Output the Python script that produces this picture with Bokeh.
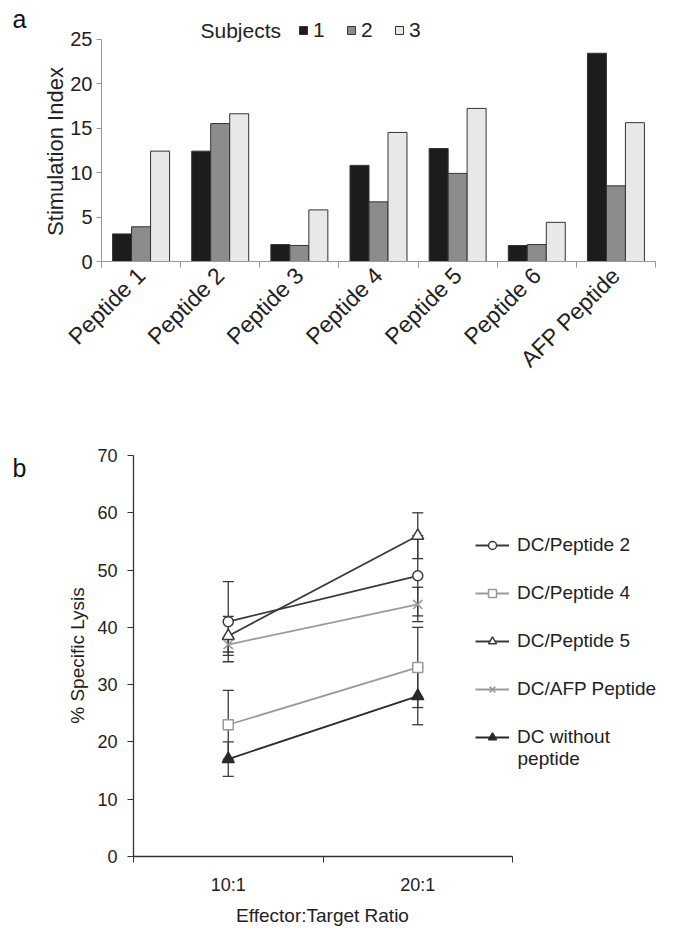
import numpy as np
from bokeh.plotting import figure
from bokeh.layouts import column
from bokeh.models import (ColumnDataSource, FixedTicker, Label, Legend, LegendItem,
                          Whisker, TeeHead, Range1d)
from bokeh.embed import file_html
from bokeh.resources import INLINE

FONT = "Liberation Sans"
TXT = "#222222"

# ---------------- Panel a data ----------------
peptides = ["Peptide 1", "Peptide 2", "Peptide 3", "Peptide 4", "Peptide 5", "Peptide 6", "AFP Peptide"]
subject_labels = ["1", "2", "3"]
subject_1 = [3.1, 12.4, 1.9, 10.8, 12.7, 1.8, 23.4]
subject_2 = [3.9, 15.5, 1.8, 6.7, 9.9, 1.9, 8.5]
subject_3 = [12.4, 16.6, 5.8, 14.5, 17.2, 4.4, 15.6]
y_ticks_a = [0, 5, 10, 15, 20, 25]

# ---------------- Panel b data ----------------
ratios = ["10:1", "20:1"]
series_names = ["DC/Peptide 2", "DC/Peptide 4", "DC/Peptide 5", "DC/AFP Peptide", "DC without\npeptide"]
lysis_p2 = [41.0, 49.0]
err_p2 = [7.0, 7.0]
lysis_p4 = [23.0, 33.0]
err_p4 = [6.0, 7.0]
lysis_p5 = [38.5, 56.0]
err_p5 = [3.4, 4.0]
lysis_afp = [37.0, 44.0]
err_afp = [1.3, 3.0]
lysis_none = [17.0, 28.0]
err_none = [3.0, 5.0]
y_ticks_b = [0, 10, 20, 30, 40, 50, 60, 70]

W = 668


def txt(x, y, text, size, angle=0.0, align="left", color=TXT):
    return Label(x=x, y=y, x_units="screen", y_units="screen", text=text, angle=angle,
                 text_font=FONT, text_font_size=size, text_baseline="middle",
                 text_align=align, text_color=color)


# ================= Panel a =================
H1 = 411
A_LEFT, A_ZERO = 101, 261            # pixel position of the axes' origin
PXA_X = 554 / len(peptides)
PXA_Y = (261 - 38.5) / 25.0
p1 = figure(width=W, height=H1,
            x_range=Range1d(-A_LEFT / PXA_X, (W - A_LEFT) / PXA_X),
            y_range=Range1d(-(H1 - A_ZERO) / PXA_Y, A_ZERO / PXA_Y),
            output_backend="svg", toolbar_location=None, frame_align=False, min_border=0)
p1.outline_line_color = None
p1.xgrid.visible = False
p1.ygrid.visible = False

centers = np.arange(len(peptides)) + 0.5
bw = 0.24
bar_colors = ["#1c1c1c", "#8c8c8c", "#e8e8e8"]
bar_renderers = []
for k, vals in enumerate([subject_1, subject_2, subject_3]):
    src = ColumnDataSource(dict(x=centers + (k - 1) * bw, top=vals))
    r = p1.vbar(x="x", top="top", width=bw, bottom=0, source=src,
                fill_color=bar_colors[k], line_color="#333333", line_width=1)
    bar_renderers.append(r)

xa = p1.xaxis[0]
xa.fixed_location = 0
xa.bounds = (0, len(peptides))
xa.ticker = FixedTicker(ticks=list(centers), minor_ticks=list(range(len(peptides) + 1)))
xa.major_label_overrides = {float(c): name for c, name in zip(centers, peptides)}
xa.major_label_orientation = np.pi / 4
xa.major_tick_out = 0
xa.major_tick_in = 0
xa.minor_tick_out = 6
xa.minor_tick_in = 0
xa.major_label_standoff = 4
xa.major_label_text_font = FONT
xa.major_label_text_font_size = "23px"
xa.major_label_text_color = TXT
xa.axis_line_color = "#999999"
xa.minor_tick_line_color = "#999999"

ya = p1.yaxis[0]
ya.fixed_location = 0
ya.bounds = (0, 25)
ya.ticker = FixedTicker(ticks=y_ticks_a)
ya.major_tick_out = 5
ya.major_tick_in = 0
ya.minor_tick_out = 0
ya.minor_tick_in = 0
ya.major_label_standoff = 4
ya.major_label_text_font = FONT
ya.major_label_text_font_size = "20px"
ya.major_label_text_color = TXT
ya.axis_line_color = "#999999"
ya.major_tick_line_color = "#999999"

p1.add_layout(txt(55, H1 - 151, "Stimulation Index", "22px", angle=np.pi / 2, align="center"))

leg_a = Legend(items=[LegendItem(label=lab, renderers=[r]) for lab, r in zip(subject_labels, bar_renderers)],
               orientation="horizontal", location=(298, H1 - 42), glyph_width=10, glyph_height=10,
               label_standoff=5, spacing=13, padding=0, margin=0, border_line_color=None,
               background_fill_alpha=0, label_text_font=FONT, label_text_font_size="21px",
               label_text_color=TXT, label_height=20)
p1.add_layout(leg_a)
p1.add_layout(txt(200, H1 - 30, "Subjects", "21px"))
p1.add_layout(txt(12, H1 - 18, "a", "25px", color="#111111"))

# ================= Panel b =================
H2 = 523
TOP2 = H1                      # page y of panel b's top
B_LEFT, B_ZERO = 133, 856 - TOP2
PXB_X = 379 / len(ratios)
PXB_Y = 401 / 70.0
p2 = figure(width=W, height=H2,
            x_range=Range1d(-B_LEFT / PXB_X, (W - B_LEFT) / PXB_X),
            y_range=Range1d(-(H2 - B_ZERO) / PXB_Y, B_ZERO / PXB_Y),
            output_backend="svg", toolbar_location=None, frame_align=False, min_border=0)
p2.outline_line_color = None
p2.xgrid.visible = False
p2.ygrid.visible = False

rx = np.arange(len(ratios)) + 0.5
series = [
    (lysis_p2, err_p2, "#3a3a3a", "circle", 10, "white"),
    (lysis_p4, err_p4, "#9a9a9a", "square", 10, "white"),
    (lysis_p5, err_p5, "#3a3a3a", "triangle", 12, "white"),
    (lysis_afp, err_afp, "#9a9a9a", "x", 13, None),
    (lysis_none, err_none, "#2a2a2a", "triangle", 12, "#2a2a2a"),
]

for vals, errs, col, mk, sz, fill in series:
    v = np.array(vals)
    e = np.array(errs)
    wsrc = ColumnDataSource(dict(x=rx, upper=v + e, lower=v - e))
    p2.add_layout(Whisker(base="x", upper="upper", lower="lower", source=wsrc,
                          line_color="#3a3a3a", line_width=1.3,
                          upper_head=TeeHead(size=11, line_color="#3a3a3a", line_width=1.3),
                          lower_head=TeeHead(size=11, line_color="#3a3a3a", line_width=1.3)))

items_b = []
for (vals, errs, col, mk, sz, fill), name in zip(series, series_names):
    src = ColumnDataSource(dict(x=rx, y=vals))
    rl = p2.line(x="x", y="y", source=src, line_color=col, line_width=1.8)
    if fill is None:
        rs = p2.scatter(x="x", y="y", source=src, marker=mk, size=sz, line_color=col, line_width=1.6)
    else:
        rs = p2.scatter(x="x", y="y", source=src, marker=mk, size=sz, line_color=col,
                        fill_color=fill, line_width=1.5)
    items_b.append(LegendItem(label=name.split("\n")[0], renderers=[rl, rs]))

leg_b = Legend(items=items_b, location=(475, H2 - (748 - TOP2)), glyph_width=34, glyph_height=20,
               label_standoff=8, spacing=26, padding=0, margin=0, border_line_color=None,
               background_fill_alpha=0, label_text_font=FONT, label_text_font_size="19px",
               label_text_color=TXT, label_height=20)
p2.add_layout(leg_b)
# second line of the last legend entry
p2.add_layout(txt(517, H2 - (758 - TOP2), series_names[-1].split("\n")[1], "19px"))

xb = p2.xaxis[0]
xb.fixed_location = 0
xb.bounds = (0, len(ratios))
xb.ticker = FixedTicker(ticks=list(rx), minor_ticks=list(range(len(ratios) + 1)))
xb.major_label_overrides = {float(c): r for c, r in zip(rx, ratios)}
xb.major_tick_out = 0
xb.major_tick_in = 0
xb.minor_tick_out = 6
xb.minor_tick_in = 0
xb.major_label_standoff = 12
xb.major_label_text_font = FONT
xb.major_label_text_font_size = "18px"
xb.major_label_text_color = TXT
xb.axis_line_color = "#333333"
xb.axis_line_width = 1.3
xb.minor_tick_line_color = "#333333"

yb = p2.yaxis[0]
yb.fixed_location = 0
yb.bounds = (0, 70)
yb.ticker = FixedTicker(ticks=y_ticks_b)
yb.major_tick_out = 6
yb.major_tick_in = 0
yb.minor_tick_out = 0
yb.minor_tick_in = 0
yb.major_label_standoff = 10
yb.major_label_text_font = FONT
yb.major_label_text_font_size = "18px"
yb.major_label_text_color = TXT
yb.axis_line_color = "#333333"
yb.axis_line_width = 1.3
yb.major_tick_line_color = "#333333"

p2.add_layout(txt(77, H2 - (655 - TOP2), "% Specific Lysis", "19px", angle=np.pi / 2, align="center"))
p2.add_layout(txt(322, H2 - (915 - TOP2), "Effector:Target Ratio", "19px", align="center"))
p2.add_layout(txt(12, H2 - (467 - TOP2), "b", "25px", color="#111111"))

layout = column(p1, p2, spacing=0)
open("out.html", "w").write(file_html(layout, INLINE))
